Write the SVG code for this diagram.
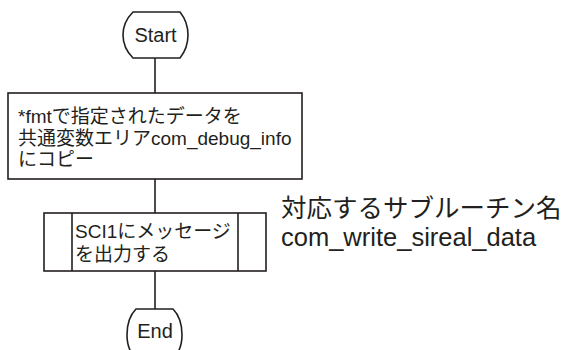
<svg xmlns="http://www.w3.org/2000/svg" width="565" height="350" viewBox="0 0 565 350">
<style>
.s{fill:#fff;stroke:#231f20;stroke-width:1.6}
.c{fill:none;stroke:#231f20;stroke-width:1.6}
.t{font-family:"Liberation Sans","Noto Sans CJK JP",sans-serif;fill:#231f20;font-size:19px}
.n{font-size:25.5px}
</style>
<g id="connectors">
<line class="c" x1="155" y1="58" x2="155" y2="93"/>
<line class="c" x1="155" y1="179" x2="155" y2="213"/>
<line class="c" x1="155" y1="271" x2="155" y2="309"/>
</g>
<g id="start">
<path class="s" d="M133,12 H180 Q188,22 188,35 Q188,48 180,58 H133 Q123,48 123,35 Q123,22 133,12 Z"/>
<text class="t" x="155.5" y="41.5" text-anchor="middle" style="font-size:20px">Start</text>
</g>
<g id="copy">
<rect class="s" x="8" y="93" width="294" height="86"/>
<text class="t" x="18" y="123">*fmtで指定されたデータを</text>
<text class="t" x="18" y="145">共通変数エリアcom_debug_info</text>
<text class="t" x="18" y="166">にコピー</text>
</g>
<g id="sci1">
<rect class="s" x="44" y="213" width="222" height="58"/>
<line class="c" x1="72" y1="213" x2="72" y2="271"/>
<line class="c" x1="238" y1="213" x2="238" y2="271"/>
<text class="t" x="75" y="238">SCI1にメッセージ</text>
<text class="t" x="75" y="261">を出力する</text>
</g>
<g id="end">
<path class="s" d="M136,309 H173 Q182,318 182,335 Q182,345 178,352 H131 Q127,345 127,335 Q127,318 136,309 Z"/>
<text class="t" x="155" y="338" text-anchor="middle" style="font-size:20px">End</text>
</g>
<g id="note">
<text class="t n" x="281" y="217">対応するサブルーチン名</text>
<text class="t n" x="281" y="246">com_write_sireal_data</text>
</g>
</svg>
